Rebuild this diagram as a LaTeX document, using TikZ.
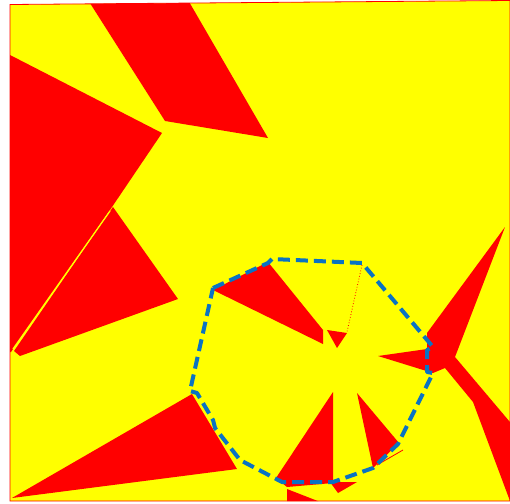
\documentclass[tikz,border=0pt]{standalone}
\definecolor{octblue}{RGB}{10,115,195}
\definecolor{pureyellow}{RGB}{255,255,0}
\definecolor{purered}{RGB}{255,0,0}
\begin{document}
\begin{tikzpicture}[x=1pt,y=-1pt,
  redreg/.style={fill=purered, draw=none},
  gapline/.style={draw=pureyellow, line width=1.3pt},
  thinred/.style={draw=purered, line width=0.8pt},
  oct/.style={draw=octblue, line width=4pt, dash pattern=on 12pt off 6pt, line join=round}]
\useasboundingbox (0,0) rectangle (510,503);
\fill[white] (0,0) rectangle (510,503);
\coordinate (s1) at (10,4.5);
\coordinate (s2) at (510,0.5);
\coordinate (s3) at (510,501);
\coordinate (s4) at (10,501);
\fill[pureyellow] (s1) -- (s2) -- (s3) -- (s4) -- cycle;
\begin{scope}
  \clip (s1) -- (s2) -- (s3) -- (s4) -- cycle;
  % top band
  \fill[redreg] (88,0) -- (188,0) -- (268,138) -- (165,121) -- cycle;
  % big left region
  \fill[redreg] (0,55) -- (10,55) -- (162,133) -- (112,207) -- (11,352) -- (0,352) -- cycle;
  % triangle below
  \fill[redreg] (113,207) -- (178,299) -- (20,356) -- (14,351) -- cycle;
  \draw[gapline] (110,211) -- (13,349);
  % bottom-left triangle
  \fill[redreg] (192,394) -- (237,469) -- (12,498) -- cycle;
  % triangles inside octagon
  \fill[redreg] (213,290) -- (268,262) -- (323,330) -- (323,344) -- cycle;
  \fill[redreg] (327,330) -- (347,333) -- (337,348) -- cycle;
  \draw[purered, line width=0.8pt, dotted] (362,265) -- (347,332);
  \fill[redreg] (333,392) -- (276,478) -- (287,487) -- (333,483) -- cycle;
  \fill[redreg] (330,482) -- (357,482) -- (338,493) -- cycle;
  \fill[redreg] (287,489) -- (287,505) -- (328,505) -- cycle;
  \fill[redreg] (357,393) -- (399,443) -- (373,468) -- cycle;
  \draw[thinred] (377,465) -- (403,450);
  % right star shape
  \fill[redreg] (505,227) -- (455,357) -- (515,428) -- (515,505) -- (510,501)
     -- (473,402) -- (445,368) -- (433,373) -- (378,356) -- (427,349)
     -- (427,333) -- cycle;
\end{scope}
\draw[purered, line width=0.8pt] (s1) -- (s2) -- (s3) -- (s4) -- cycle;
% dashed octagon
\coordinate (p1) at (213,288);
\coordinate (p2) at (268,263);
\coordinate (p3) at (272,259);
\coordinate (p4) at (362,263);
\coordinate (p5) at (433,347);
\coordinate (p6) at (427,350);
\coordinate (p7) at (427,372);
\coordinate (p8) at (433,373);
\coordinate (p9) at (398,444);
\coordinate (p10) at (373,468);
\coordinate (p11) at (333,482);
\coordinate (p12) at (282,482);
\coordinate (p13) at (240,460);
\coordinate (p14) at (215,428);
\coordinate (p15) at (213,420);
\coordinate (p16) at (197,393);
\coordinate (p17) at (190,391);
\draw[oct] (p1) -- (p2) -- (p3) -- (p4) -- (p5) -- (p6) -- (p7) -- (p8) -- (p9)
  -- (p10) -- (p11) -- (p12) -- (p13) -- (p14) -- (p15) -- (p16) -- (p17) -- cycle;
\end{tikzpicture}
\end{document}
